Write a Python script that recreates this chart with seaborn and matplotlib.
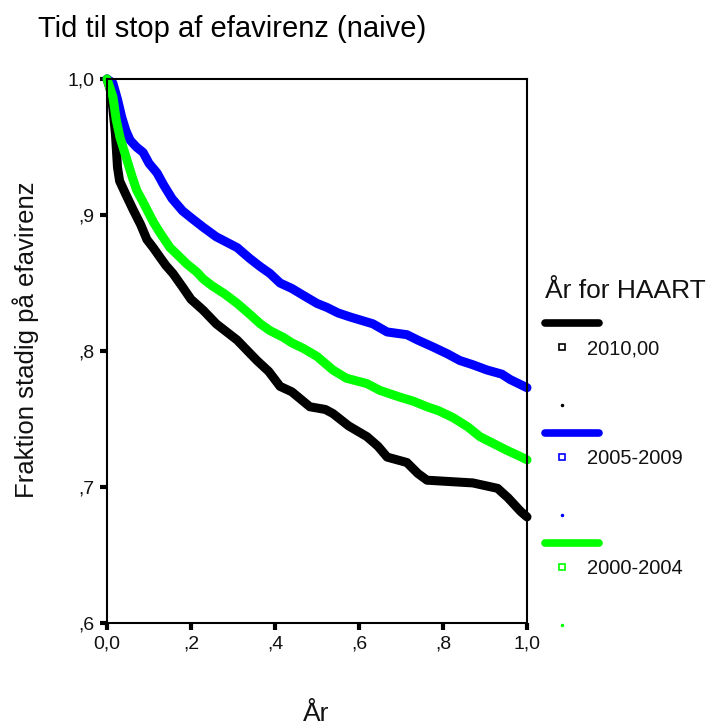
import matplotlib
matplotlib.use("Agg")
import matplotlib.pyplot as plt
import numpy as np
import pandas as pd
import seaborn as sns
from matplotlib.lines import Line2D

# ---- data ----
groups = ["2010,00", "2005-2009", "2000-2004"]
colors = ["#000000", "#0000FF", "#00FF00"]

t_2010 = [0.0, 0.010, 0.020, 0.025, 0.030, 0.045, 0.062, 0.080, 0.095, 0.110, 0.126, 0.140,
          0.157, 0.180, 0.200, 0.229, 0.260, 0.310, 0.335, 0.357, 0.385, 0.412, 0.440, 0.483,
          0.520, 0.538, 0.575, 0.619, 0.645, 0.667, 0.714, 0.740, 0.762, 0.871, 0.930, 0.955,
          0.967, 0.985, 1.0]
s_2010 = [1.0, 0.990, 0.960, 0.935, 0.925, 0.915, 0.904, 0.893, 0.882, 0.876, 0.869, 0.863,
          0.857, 0.847, 0.838, 0.830, 0.820, 0.808, 0.800, 0.793, 0.785, 0.774, 0.770, 0.759,
          0.757, 0.754, 0.745, 0.737, 0.730, 0.722, 0.718, 0.710, 0.705, 0.703, 0.699, 0.692,
          0.688, 0.682, 0.678]

t_2005 = [0.0, 0.014, 0.025, 0.035, 0.045, 0.055, 0.070, 0.086, 0.100, 0.119, 0.135, 0.155,
          0.180, 0.200, 0.229, 0.260, 0.310, 0.340, 0.365, 0.388, 0.412, 0.440, 0.467, 0.500,
          0.524, 0.550, 0.579, 0.633, 0.667, 0.714, 0.740, 0.776, 0.810, 0.840, 0.870, 0.905,
          0.940, 0.960, 0.980, 1.0]
s_2005 = [1.0, 0.997, 0.985, 0.972, 0.962, 0.955, 0.950, 0.946, 0.938, 0.931, 0.922, 0.912,
          0.903, 0.898, 0.891, 0.884, 0.876, 0.868, 0.862, 0.857, 0.850, 0.846, 0.841, 0.835,
          0.832, 0.828, 0.825, 0.820, 0.814, 0.812, 0.808, 0.803, 0.798, 0.793, 0.790, 0.786,
          0.783, 0.779, 0.776, 0.773]

t_2000 = [0.0, 0.014, 0.022, 0.031, 0.040, 0.048, 0.060, 0.071, 0.085, 0.095, 0.110, 0.126,
          0.150, 0.167, 0.190, 0.214, 0.229, 0.250, 0.280, 0.310, 0.340, 0.365, 0.388, 0.420,
          0.440, 0.467, 0.500, 0.538, 0.570, 0.619, 0.650, 0.698, 0.730, 0.762, 0.790, 0.824,
          0.860, 0.888, 0.920, 0.952, 0.980, 1.0]
s_2000 = [1.0, 0.987, 0.970, 0.957, 0.948, 0.940, 0.928, 0.918, 0.910, 0.904, 0.895, 0.887,
          0.876, 0.871, 0.864, 0.858, 0.853, 0.848, 0.842, 0.835, 0.827, 0.820, 0.815, 0.810,
          0.806, 0.802, 0.796, 0.786, 0.780, 0.776, 0.771, 0.766, 0.763, 0.759, 0.756, 0.751,
          0.744, 0.737, 0.732, 0.727, 0.723, 0.720]

x_ticks = [0.0, 0.2, 0.4, 0.6, 0.8, 1.0]
x_ticklabels = ["0,0", ",2", ",4", ",6", ",8", "1,0"]
y_ticks = [0.6, 0.7, 0.8, 0.9, 1.0]
y_ticklabels = [",6", ",7", ",8", ",9", "1,0"]

title = "Tid til stop af efavirenz (naive)"
xlabel = "År"
ylabel = "Fraktion stadig på efavirenz"
legend_title = "År for HAART"

# ---- build table ----
df = pd.concat([
    pd.DataFrame({"t": t_2010, "s": s_2010, "group": groups[0]}),
    pd.DataFrame({"t": t_2005, "s": s_2005, "group": groups[1]}),
    pd.DataFrame({"t": t_2000, "s": s_2000, "group": groups[2]}),
], ignore_index=True)

sns.set_theme(style="white")
plt.rcParams["font.family"] = ["Liberation Sans", "DejaVu Sans"]

W, H = 715, 725
fig = plt.figure(figsize=(W / 100, H / 100), dpi=100)
fig.patch.set_facecolor("white")

x0, x1, ytop, ybot = 107, 527, 79, 623
ax = fig.add_axes([x0 / W, 1 - ybot / H, (x1 - x0) / W, (ybot - ytop) / H])

sns.lineplot(data=df, x="t", y="s", hue="group", hue_order=groups, palette=colors,
             linewidth=6.5, legend=False, ax=ax, estimator=None, sort=False,
             clip_on=False, solid_joinstyle="round", solid_capstyle="round")

ax.set_xlim(0, 1)
ax.set_ylim(0.6, 1.0)
ax.set_xticks(x_ticks)
ax.set_xticklabels(x_ticklabels)
ax.set_yticks(y_ticks)
ax.set_yticklabels(y_ticklabels)
ax.tick_params(axis="both", which="major", bottom=True, left=True, direction="out",
               length=5, width=3, color="black", labelsize=14, pad=4, labelcolor="#111111")
for sp in ax.spines.values():
    sp.set_visible(True)
    sp.set_color("black")
    sp.set_linewidth(1.5)
ax.set_xlabel("")
ax.set_ylabel("")
ax.grid(False)

# title and axis labels
fig.text(38 / W, 1 - 37 / H, title, fontsize=21, ha="left", va="baseline", color="black")
fig.text(316 / W, 1 - 721 / H, xlabel, fontsize=19, ha="center", va="baseline", color="#111111")
fig.text(26 / W, 1 - 340 / H, ylabel, fontsize=18.5, rotation=90, ha="center", va="center",
         color="#111111")

# legend (SPSS style)
fig.text(545 / W, 1 - 298 / H, legend_title, fontsize=19, ha="left", va="baseline", color="#111111")
for i, (g, c) in enumerate(zip(groups, colors)):
    base = 323 + i * 110
    fig.add_artist(Line2D([545 / W, 599 / W], [1 - base / H, 1 - base / H],
                          transform=fig.transFigure, color=c, linewidth=5.5,
                          solid_capstyle="round"))
    ym = base + 24
    fig.add_artist(Line2D([562 / W], [1 - ym / H], transform=fig.transFigure,
                          marker="s", markersize=5, markerfacecolor="white",
                          markeredgecolor=c, markeredgewidth=1.2, linestyle="none"))
    fig.text(587 / W, 1 - (ym + 7) / H, g, fontsize=14.5, ha="left", va="baseline",
             color="#111111")
    yd = base + 82
    fig.add_artist(Line2D([562 / W], [1 - yd / H], transform=fig.transFigure,
                          marker="o", markersize=1.5, markerfacecolor=c,
                          markeredgecolor=c, linestyle="none"))

fig.savefig("out.png", dpi=100, facecolor="white")
